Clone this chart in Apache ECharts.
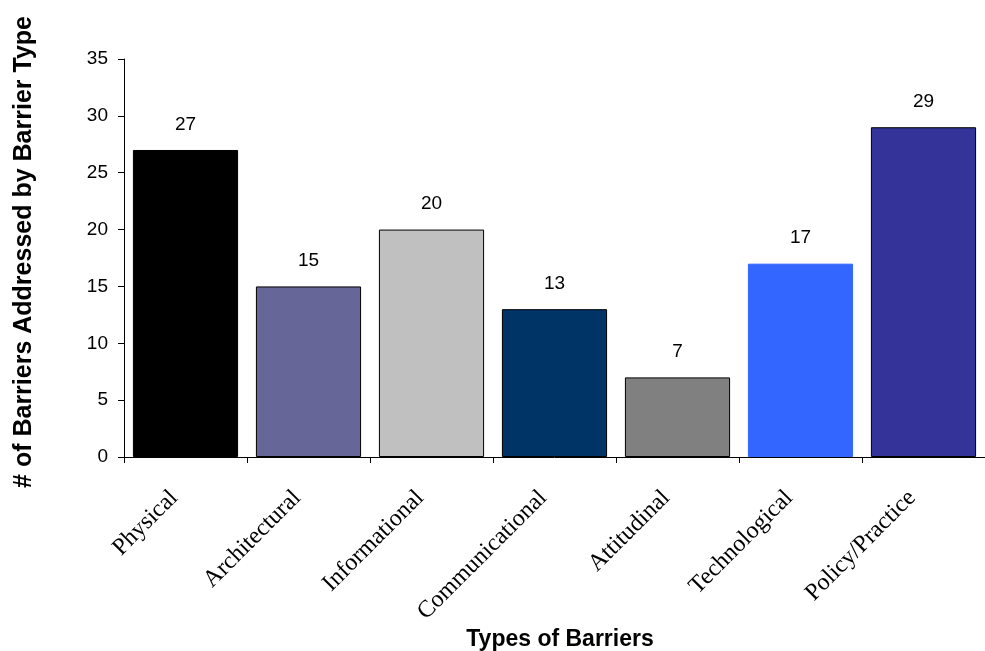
<!DOCTYPE html>
<html>
<head>
<meta charset="utf-8">
<script src="https://cdn.jsdelivr.net/npm/echarts@6/dist/echarts.min.js"></script>
<style>
  html, body { margin: 0; padding: 0; background: #fff; }
  #chart { width: 985px; height: 651px; }
</style>
</head>
<body>
<div id="chart"></div>
<script>
// Barrier categories and counts
const categories = ['Physical', 'Architectural', 'Informational', 'Communicational', 'Attitudinal', 'Technological', 'Policy/Practice'];
const counts = [27, 15, 20, 13, 7, 17, 29];
const barColors = ['#000000', '#666699', '#C0C0C0', '#003366', '#808080', '#3366FF', '#333399'];
const barBorders = ['#000000', '#000000', '#000000', '#000000', '#000000', '#3366FF', '#000000'];
const yTicks = [0, 5, 10, 15, 20, 25, 30, 35];

const chart = echarts.init(document.getElementById('chart'), null, { renderer: 'canvas' });

const sans = 'Liberation Sans, Arial, sans-serif';
const serif = 'Liberation Serif, Times New Roman, serif';

chart.setOption({
  animation: false,
  backgroundColor: '#ffffff',
  grid: { left: 124, top: 59, width: 871, height: 398, containLabel: false },
  xAxis: {
    type: 'category',
    data: categories,
    axisLine: { lineStyle: { color: '#000', width: 1 } },
    axisTick: { show: true, length: 6, alignWithLabel: false, lineStyle: { color: '#000' } },
    axisLabel: {
      interval: 0,
      rotate: 45,
      margin: 26,
      padding: [0, 16, 0, 0],
      fontFamily: serif,
      fontSize: 24,
      color: '#000'
    },
    splitLine: { show: false }
  },
  yAxis: {
    type: 'value',
    min: yTicks[0],
    max: yTicks[yTicks.length - 1],
    interval: 5,
    axisLine: { show: true, lineStyle: { color: '#000', width: 1 } },
    axisTick: { show: true, length: 6, lineStyle: { color: '#000' } },
    axisLabel: { fontFamily: sans, fontSize: 19, color: '#000', margin: 16 },
    splitLine: { show: false }
  },
  series: [{
    type: 'bar',
    barCategoryGap: '14.5%',
    data: counts.map((v, i) => ({
      value: v,
      itemStyle: { color: barColors[i], borderColor: barBorders[i], borderWidth: 1 }
    })),
    label: {
      show: true,
      position: 'top',
      distance: 16,
      fontFamily: sans,
      fontSize: 19,
      color: '#000'
    }
  }],
  graphic: [
    {
      type: 'text',
      x: 24,
      y: 252,
      rotation: Math.PI / 2,
      style: {
        text: '# of Barriers Addressed by Barrier Type',
        fontFamily: sans,
        fontWeight: 'bold',
        fontSize: 25,
        fill: '#000',
        textAlign: 'center',
        textVerticalAlign: 'middle'
      }
    },
    {
      type: 'text',
      x: 560,
      y: 640,
      style: {
        text: 'Types of Barriers',
        fontFamily: sans,
        fontWeight: 'bold',
        fontSize: 23,
        fill: '#000',
        textAlign: 'center',
        textVerticalAlign: 'middle'
      }
    }
  ]
});
</script>
</body>
</html>
